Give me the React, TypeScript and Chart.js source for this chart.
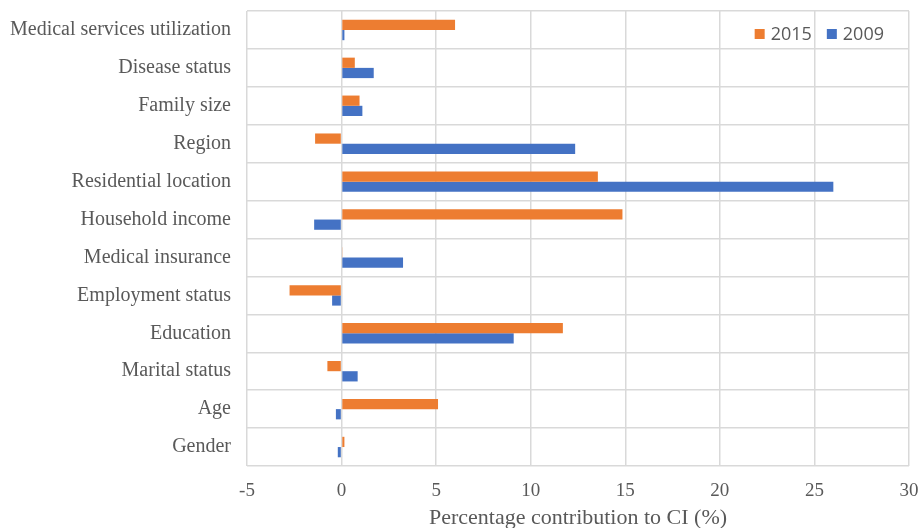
import React, { useEffect, useRef } from "react";
import { Chart, registerables } from "chart.js";

Chart.register(...registerables);

const categories = [
  "Medical services utilization",
  "Disease status",
  "Family size",
  "Region",
  "Residential location",
  "Household income",
  "Medical insurance",
  "Employment status",
  "Education",
  "Marital status",
  "Age",
  "Gender",
];
const values2015 = [6.0, 0.7, 0.95, -1.4, 13.55, 14.85, 0.03, -2.75, 11.7, -0.75, 5.1, 0.15];
const values2009 = [0.15, 1.7, 1.1, 12.35, 26.0, -1.45, 3.25, -0.5, 9.1, 0.85, -0.3, -0.2];
const seriesLabels = ["2015", "2009"];
const xTicks = [-5, 0, 5, 10, 15, 20, 25, 30];

const ORANGE = "#ED7D31";
const BLUE = "#4472C4";
const GRID = "#D9D9D9";
const TEXT = "#595959";
const SERIF = "'Liberation Serif', 'Times New Roman', serif";
const SANS = "'Open Sans', 'Liberation Sans', sans-serif";

const insideLegend = {
  id: "insideLegend",
  afterDraw(chart: any) {
    const ctx = chart.ctx;
    const area = chart.chartArea;
    ctx.save();
    ctx.font = `18px ${SANS}`;
    ctx.textBaseline = "middle";
    const y = area.top + 23;
    const box = 10;
    const gapBoxText = 6;
    const gapItems = 15;
    const items = chart.data.datasets.map((d: any) => ({ label: d.label, color: d.backgroundColor }));
    const widths = items.map((it: any) => box + gapBoxText + ctx.measureText(it.label).width);
    const total = widths.reduce((a: number, b: number) => a + b, 0) + gapItems * (items.length - 1);
    let x = area.right - 25 - total;
    items.forEach((it: any, i: number) => {
      ctx.fillStyle = it.color;
      ctx.fillRect(x, y - box / 2, box, box);
      ctx.fillStyle = TEXT;
      ctx.textAlign = "left";
      ctx.fillText(it.label, x + box + gapBoxText, y + 1);
      x += widths[i] + gapItems;
    });
    ctx.restore();
  },
};

export default function App() {
  const ref = useRef<HTMLCanvasElement | null>(null);
  useEffect(() => {
    if (!ref.current) return;
    const chart = new Chart(ref.current, {
      type: "bar",
      data: {
        labels: categories,
        datasets: [
          { label: seriesLabels[0], data: values2015, backgroundColor: ORANGE },
          { label: seriesLabels[1], data: values2009, backgroundColor: BLUE },
        ],
      },
      options: {
        indexAxis: "y",
        animation: false,
        responsive: false,
        maintainAspectRatio: false,
        layout: { padding: { top: 11, right: 12, left: 0, bottom: 0 } },
        datasets: { bar: { categoryPercentage: 0.54, barPercentage: 1.0 } },
        plugins: { legend: { display: false }, tooltip: { enabled: false } },
        scales: {
          x: {
            type: "linear",
            min: -5,
            max: 30,
            afterBuildTicks: (scale: any) => {
              scale.ticks = xTicks.map((v) => ({ value: v }));
            },
            afterFit: (scale: any) => {
              scale.height = 62;
              scale.paddingLeft = 0;
              scale.paddingRight = 0;
            },
            grid: { color: GRID, lineWidth: 1.5, drawTicks: false },
            border: { display: false },
            ticks: { color: TEXT, font: { family: SERIF, size: 19 }, padding: 14 },
            title: {
              display: true,
              text: "Percentage contribution to CI (%)",
              color: TEXT,
              font: { family: SERIF, size: 22 },
              padding: { top: 0, bottom: -3 },
            },
          },
          y: {
            type: "category",
            offset: true,
            afterFit: (scale: any) => {
              scale.width = 247;
              scale.paddingTop = 0;
              scale.paddingBottom = 0;
            },
            grid: { color: GRID, lineWidth: 1.5, drawTicks: false, offset: true },
            border: { display: false },
            ticks: { color: TEXT, font: { family: SERIF, size: 20 }, padding: 16 },
          },
        },
      },
      plugins: [insideLegend],
    } as any);
    return () => chart.destroy();
  }, []);
  return (
    <div style={{ position: "absolute", left: 0, top: 0, width: 921, height: 528, background: "#fff" }}>
      <canvas ref={ref} width={921} height={528} style={{ width: 921, height: 528 }} />
    </div>
  );
}
